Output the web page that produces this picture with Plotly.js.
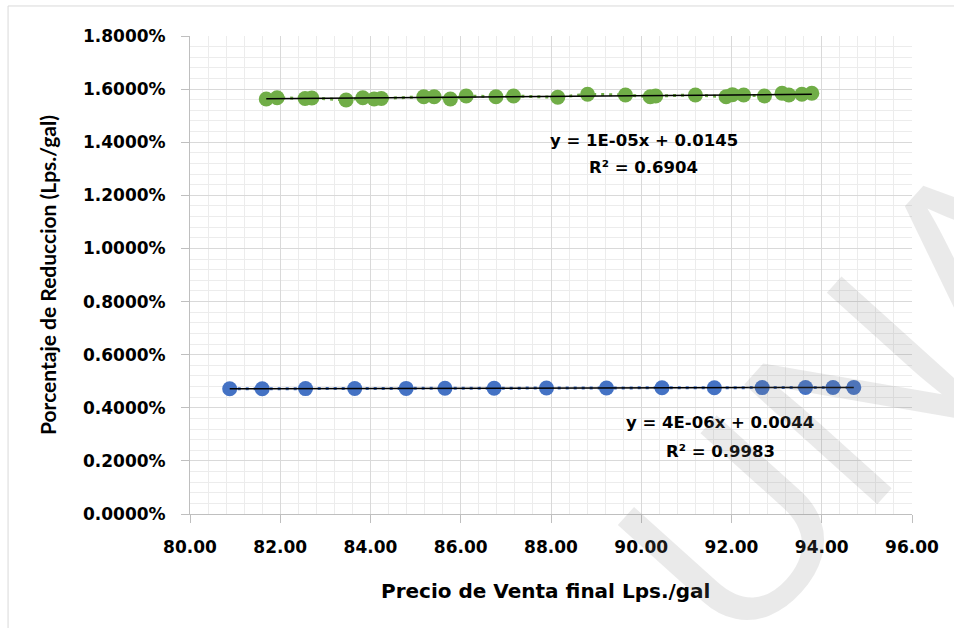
<!DOCTYPE html>
<html>
<head>
<meta charset="utf-8">
<script src="https://cdn.plot.ly/plotly-3.0.1.min.js"></script>
<style>
  html, body { margin: 0; padding: 0; background: #fff; }
  #chart { width: 954px; height: 628px; }
</style>
</head>
<body>
<div id="chart"></div>
<script>
// Green series (upper)
const greenX = [81.69, 81.93, 82.55, 82.70, 83.46, 83.83, 84.08, 84.24, 85.18, 85.41, 85.77, 86.12, 86.78, 87.17, 88.15, 88.81, 89.65, 90.20, 90.32, 91.20, 91.88, 92.02, 92.27, 92.73, 93.12, 93.27, 93.56, 93.78];
const greenY = [0.015628, 0.015677, 0.015647, 0.015665, 0.015590, 0.015677, 0.015628, 0.015647, 0.015714, 0.015714, 0.015628, 0.015741, 0.015714, 0.015741, 0.015692, 0.015805, 0.015778, 0.015714, 0.015741, 0.015778, 0.015714, 0.015792, 0.015778, 0.015741, 0.015842, 0.015778, 0.015805, 0.015842];

// Blue series (lower)
const blueX = [80.88, 81.60, 82.56, 83.65, 84.79, 85.65, 86.74, 87.90, 89.23, 90.46, 91.62, 92.68, 93.64, 94.25, 94.71];
const blueY = [0.004715, 0.004718, 0.004722, 0.004726, 0.004730, 0.004734, 0.004738, 0.004742, 0.004747, 0.004752, 0.004756, 0.004760, 0.004764, 0.004766, 0.004768];

// Trendline labels
const greenEq = "y = 1E-05x + 0.0145";
const greenR2 = "R² = 0.6904";
const blueEq = "y = 4E-06x + 0.0044";
const blueR2 = "R² = 0.9983";

const xTitle = "Precio de Venta final Lps./gal";
const yTitle = "Porcentaje de Reduccion (Lps./gal)";
const watermark = "UNA";

function fit(xs, ys) {
  const n = xs.length;
  let sx = 0, sy = 0, sxx = 0, sxy = 0;
  for (let i = 0; i < n; i++) { sx += xs[i]; sy += ys[i]; sxx += xs[i]*xs[i]; sxy += xs[i]*ys[i]; }
  const m = (n*sxy - sx*sy) / (n*sxx - sx*sx);
  const b = (sy - m*sx) / n;
  const x0 = Math.min(...xs), x1 = Math.max(...xs);
  return { x: [x0, x1], y: [m*x0 + b, m*x1 + b] };
}

const GREEN = "#70AD47", BLUE = "#4472C4";
const gFit = fit(greenX, greenY), bFit = fit(blueX, blueY);

const traces = [
  { x: greenX, y: greenY, type: "scatter", mode: "lines+markers",
    line: { color: GREEN, width: 3, dash: "3px,5px" },
    marker: { color: GREEN, size: 15 }, hoverinfo: "x+y" },
  { x: blueX, y: blueY, type: "scatter", mode: "lines+markers",
    line: { color: BLUE, width: 3, dash: "3px,5px" },
    marker: { color: BLUE, size: 15 }, hoverinfo: "x+y" },
  { x: gFit.x, y: gFit.y, type: "scatter", mode: "lines",
    line: { color: "#000", width: 1.5 }, hoverinfo: "skip" },
  { x: bFit.x, y: bFit.y, type: "scatter", mode: "lines",
    line: { color: "#000", width: 1.5 }, hoverinfo: "skip" }
];

const tickFont = { family: "DejaVu Sans", size: 17, color: "#000", weight: "bold" };
const eqFont = { family: "DejaVu Sans", size: 16.5, color: "#000", weight: "bold" };

const layout = {
  width: 954, height: 628,
  margin: { l: 190, r: 42, t: 36, b: 114 },
  paper_bgcolor: "#fff", plot_bgcolor: "#fff",
  showlegend: false,
  xaxis: {
    range: [80, 96], dtick: 2, tick0: 80, tickformat: ".2f",
    ticks: "outside", ticklen: 8, tickcolor: "#bfbfbf",
    ticklabelstandoff: 10,
    showline: true, linecolor: "#bfbfbf", linewidth: 1,
    showgrid: true, gridcolor: "#d9d9d9", gridwidth: 1,
    minor: { dtick: 0.4, showgrid: true, gridcolor: "#ececec", gridwidth: 1 },
    zeroline: false, tickfont: tickFont
  },
  yaxis: {
    range: [0, 0.018], dtick: 0.002, tick0: 0, tickformat: ".4%",
    ticks: "outside", ticklen: 8, tickcolor: "#bfbfbf",
    ticklabelstandoff: 12,
    showline: true, linecolor: "#bfbfbf", linewidth: 1,
    showgrid: true, gridcolor: "#d9d9d9", gridwidth: 1,
    minor: { dtick: 0.0004, showgrid: true, gridcolor: "#ececec", gridwidth: 1 },
    zeroline: false, tickfont: tickFont,
    title: { text: yTitle, font: { family: "Lato", size: 21, color: "#000", weight: "bold" }, standoff: 20 }
  },
  annotations: [
    { xref: "paper", yref: "paper", x: 0.4917, y: -0.161, text: xTitle, showarrow: false,
      font: { family: "DejaVu Sans", size: 20, color: "#000", weight: "bold" }, xanchor: "center", yanchor: "middle" },
    { xref: "x", yref: "y", x: 90.05, y: 0.01408, text: greenEq, showarrow: false, font: eqFont, xanchor: "center", yanchor: "middle" },
    { xref: "x", yref: "y", x: 90.05, y: 0.01303, text: greenR2, showarrow: false, font: eqFont, xanchor: "center", yanchor: "middle" },
    { xref: "x", yref: "y", x: 91.75, y: 0.00346, text: blueEq, showarrow: false, font: eqFont, xanchor: "center", yanchor: "middle" },
    { xref: "x", yref: "y", x: 91.75, y: 0.00237, text: blueR2, showarrow: false, font: eqFont, xanchor: "center", yanchor: "middle" },
    { xref: "paper", yref: "paper", x: 0.92, y: 0.25, text: watermark, showarrow: false, textangle: -48,
      font: { family: "Liberation Sans", size: 260, color: "rgba(128,128,128,0.17)" }, xanchor: "center", yanchor: "middle" }
  ],
  shapes: [
    { type: "rect", xref: "paper", yref: "paper", x0: -0.252, x1: 1.2, y0: -0.4, y1: 1.0628,
      line: { color: "#d9d9d9", width: 1 }, fillcolor: "rgba(0,0,0,0)", layer: "below" }
  ]
};

Plotly.newPlot("chart", traces, layout, { staticPlot: true, displayModeBar: false });
</script>
</body>
</html>
